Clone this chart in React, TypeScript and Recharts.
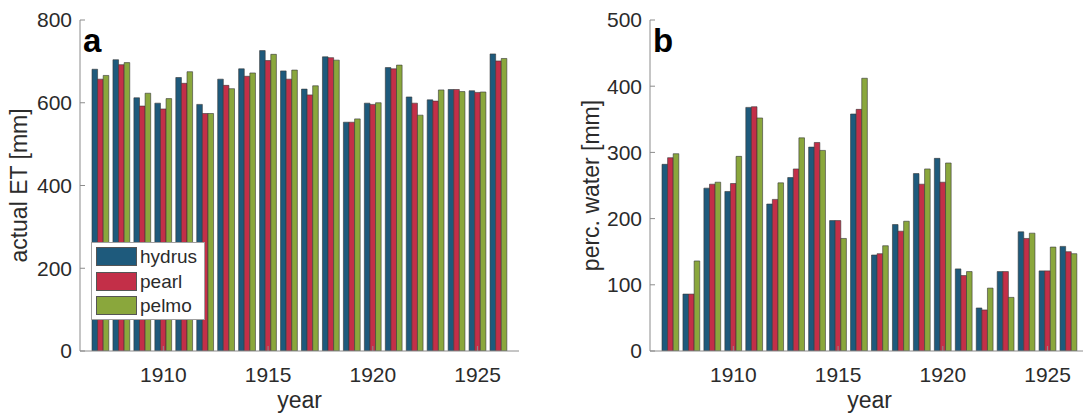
import React from "react";
import { BarChart, Bar, XAxis, YAxis, Legend } from "recharts";

// years 1907-1926
const years = [1907, 1908, 1909, 1910, 1911, 1912, 1913, 1914, 1915, 1916, 1917, 1918, 1919, 1920, 1921, 1922, 1923, 1924, 1925, 1926];
const yearTicks = [1910, 1915, 1920, 1925];

// panel a: actual ET [mm]
const etHydrus = [681, 704, 612, 599, 661, 596, 657, 682, 726, 677, 633, 711, 553, 599, 685, 614, 607, 632, 629, 718];
const etPearl = [657, 692, 592, 585, 647, 574, 642, 664, 702, 657, 619, 709, 553, 596, 682, 599, 604, 632, 625, 701];
const etPelmo = [666, 697, 623, 610, 675, 574, 634, 672, 717, 679, 641, 703, 561, 600, 691, 570, 631, 627, 626, 707];
const etTicks = [0, 200, 400, 600, 800];

// panel b: perc. water [mm]
const percHydrus = [282, 86, 246, 241, 368, 222, 262, 308, 197, 358, 145, 191, 268, 291, 124, 65, 120, 180, 121, 158];
const percPearl = [292, 86, 252, 253, 369, 229, 275, 315, 197, 365, 147, 181, 252, 255, 114, 62, 120, 170, 121, 150];
const percPelmo = [298, 136, 255, 294, 352, 254, 322, 303, 170, 412, 159, 196, 275, 284, 120, 95, 81, 178, 157, 147];
const percTicks = [0, 100, 200, 300, 400, 500];

const models = ["hydrus", "pearl", "pelmo"];
const colors = ["#1e5a7c", "#c32f48", "#8aa73c"];

const etData = years.map((year, i) => ({ year, hydrus: etHydrus[i], pearl: etPearl[i], pelmo: etPelmo[i] }));
const percData = years.map((year, i) => ({ year, hydrus: percHydrus[i], pearl: percPearl[i], pelmo: percPelmo[i] }));

const TEXT = "#2b2b2b";
const AXIS = "#8c8c8c";
const tickStyle = { fill: TEXT, fontSize: 21 };

const XTitle = ({ viewBox, text }: any) => {
    const x = viewBox.x + viewBox.width / 2;
    const y = viewBox.y + 57;
    return (
        <text x={x} y={y} textAnchor="middle" fontSize={23} fill={TEXT}>
            {text}
        </text>
    );
};

const YTitle = ({ viewBox, text, gap }: any) => {
    const x = viewBox.x + viewBox.width - gap;
    const y = viewBox.y + viewBox.height / 2;
    return (
        <text x={x} y={y} transform={`rotate(-90 ${x} ${y})`} textAnchor="middle" fontSize={23} fill={TEXT}>
            {text}
        </text>
    );
};

const LegendBox = ({ payload }: any) => (
    <div style={{ background: "#fff", border: "1px solid #a0a0a0", padding: "4px 6px 4px 4px" }}>
        {(payload || []).map((p: any, i: number) => (
            <div key={p.value} style={{ display: "flex", alignItems: "center", height: 19, marginTop: i === 0 ? 0 : 5.5 }}>
                <span
                    style={{
                        display: "inline-block",
                        width: 41,
                        height: 19,
                        background: p.color,
                        border: "1px solid #555",
                        boxSizing: "border-box",
                        marginRight: 3,
                    }}
                />
                <span style={{ fontSize: 19, color: TEXT, lineHeight: "19px" }}>{p.value}</span>
            </div>
        ))}
    </div>
);

interface PanelProps {
    data: any[];
    max: number;
    ticks: number[];
    title: string;
    letter: string;
    width: number;
    titleGap: number;
    yAxisWidth: number;
    legend?: boolean;
}

function Panel({ data, max, ticks, title, letter, width, titleGap, yAxisWidth, legend }: PanelProps) {
    return (
        <BarChart
            width={width}
            height={415}
            data={data}
            margin={{ top: 20, right: 21, bottom: 0, left: 0 }}
            barSize={5.6}
            barGap={0}
        >
            <XAxis
                dataKey="year"
                height={64}
                padding={{ left: 10, right: 10 }}
                ticks={yearTicks}
                tick={tickStyle}
                tickSize={-5}
                tickMargin={20.8}
                stroke={AXIS}
                label={<XTitle text="year" />}
            />
            <XAxis
                xAxisId="top"
                orientation="top"
                dataKey="year"
                height={0}
                padding={{ left: 10, right: 10 }}
                ticks={yearTicks}
                tickSize={-5}
                tickFormatter={() => ""}
                stroke={AXIS}
            />
            <YAxis
                width={yAxisWidth}
                domain={[0, max]}
                ticks={ticks}
                tick={tickStyle}
                tickSize={-5}
                tickMargin={13}
                stroke={AXIS}
                allowDataOverflow
                label={<YTitle text={title} gap={titleGap} />}
            />
            <YAxis
                yAxisId="right"
                orientation="right"
                width={0}
                domain={[0, max]}
                ticks={ticks}
                tickSize={-5}
                tickFormatter={() => ""}
                stroke={AXIS}
            />
            {models.map((m, i) => (
                <Bar
                    key={m}
                    dataKey={m}
                    name={m}
                    fill={colors[i]}
                    stroke="#363636"
                    strokeWidth={0.6}
                    isAnimationActive={false}
                />
            ))}
            {legend && (
                <Legend
                    layout="horizontal"
                    verticalAlign="middle"
                    align="center"
                    content={<LegendBox />}
                    wrapperStyle={{ left: 91, top: 242, width: 114, height: "auto" }}
                />
            )}
            <text x={yAxisWidth + 3} y={52} fontSize={33} fontWeight="bold" fill="#000">
                {letter}
            </text>
        </BarChart>
    );
}

export default function App() {
    return (
        <div
            style={{
                position: "absolute",
                left: 0,
                top: 0,
                width: 1083,
                height: 415,
                overflow: "hidden",
                background: "#fff",
                fontFamily: "'Liberation Sans', Arial, sans-serif",
            }}
        >
            <div style={{ position: "absolute", left: 0, top: 0 }}>
                <Panel data={etData} max={800} ticks={etTicks} title="actual ET [mm]" letter="a" width={540} titleGap={53} yAxisWidth={80} legend />
            </div>
            <div style={{ position: "absolute", left: 560, top: 0 }}>
                <Panel data={percData} max={500} ticks={percTicks} title="perc. water [mm]" letter="b" width={550} titleGap={51} yAxisWidth={90} />
            </div>
        </div>
    );
}
